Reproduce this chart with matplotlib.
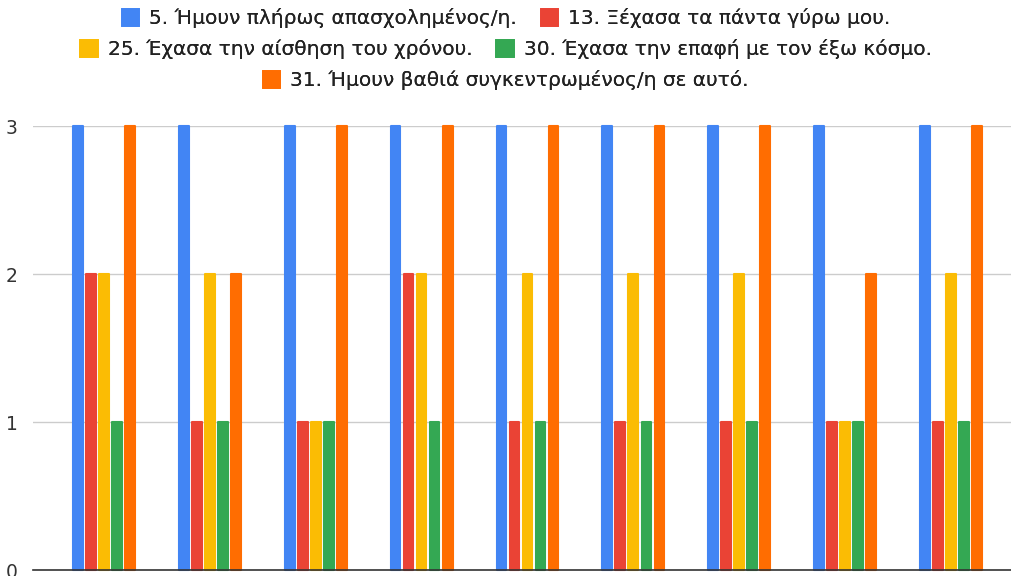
import numpy as np
import matplotlib.pyplot as plt
from matplotlib.patches import Patch

plt.rcParams['font.family'] = ['DejaVu Sans']

# answer counts per statement, one value per respondent group
series_labels = [
    '5. Ήμουν πλήρως απασχολημένος/η.',
    '13. Ξέχασα τα πάντα γύρω μου.',
    '25. Έχασα την αίσθηση του χρόνου.',
    '30. Έχασα την επαφή με τον έξω κόσμο.',
    '31. Ήμουν βαθιά συγκεντρωμένος/η σε αυτό.',
]
s5 = [3, 3, 3, 3, 3, 3, 3, 3, 3]
s13 = [2, 1, 1, 2, 1, 1, 1, 1, 1]
s25 = [2, 2, 1, 2, 2, 2, 2, 1, 2]
s30 = [1, 1, 1, 1, 1, 1, 1, 1, 1]
s31 = [3, 2, 3, 3, 3, 3, 3, 2, 3]
colors = ['#4285F4', '#EA4335', '#FBBC04', '#34A853', '#FF6D01']
yticks = [0, 1, 2, 3]

series = [s5, s13, s25, s30, s31]
x = np.arange(len(s5))

fig = plt.figure(figsize=(10.12, 5.76), dpi=100)
ax = fig.add_axes([33 / 1012, 6 / 576, 1 - 33 / 1012, (570 - 126) / 576])

width = 0.092
step = 0.123
for i, (vals, c) in enumerate(zip(series, colors)):
    ax.bar(x + (i - 2) * step, vals, width=width, color=c, edgecolor=c,
           linewidth=1.5, joinstyle='round', zorder=3, clip_on=False)

ax.set_xlim(-0.67, 8.576)
ax.set_ylim(0, 3)
ax.set_yticks(yticks)
ax.set_xticks([])
ax.grid(axis='y', color='#cccccc', linewidth=1, zorder=0)
for side in ['top', 'right', 'left']:
    ax.spines[side].set_visible(False)
ax.spines['bottom'].set_color('#333333')
ax.spines['bottom'].set_linewidth(1.2)
ax.spines['bottom'].set_zorder(4)
ax.tick_params(axis='y', length=0, pad=11, labelsize=13.5, labelcolor='#333333')
ax.set_axisbelow(True)

handles = [Patch(facecolor=c, edgecolor=c, linewidth=2, joinstyle='round')
           for c in colors]
rows = [([0, 1], 18), ([2, 3], 49), ([4], 80)]
for idx, ypix in rows:
    leg = fig.legend([handles[i] for i in idx], [series_labels[i] for i in idx],
                     loc='center', bbox_to_anchor=(0.5, 1 - ypix / 576),
                     ncol=len(idx), frameon=False, fontsize=14.5,
                     handlelength=0.8, handleheight=0.8, handletextpad=0.55,
                     columnspacing=1.2, labelcolor='#222222',
                     borderpad=0, borderaxespad=0)
    fig.add_artist(leg)

fig.savefig('out.png', dpi=100)
